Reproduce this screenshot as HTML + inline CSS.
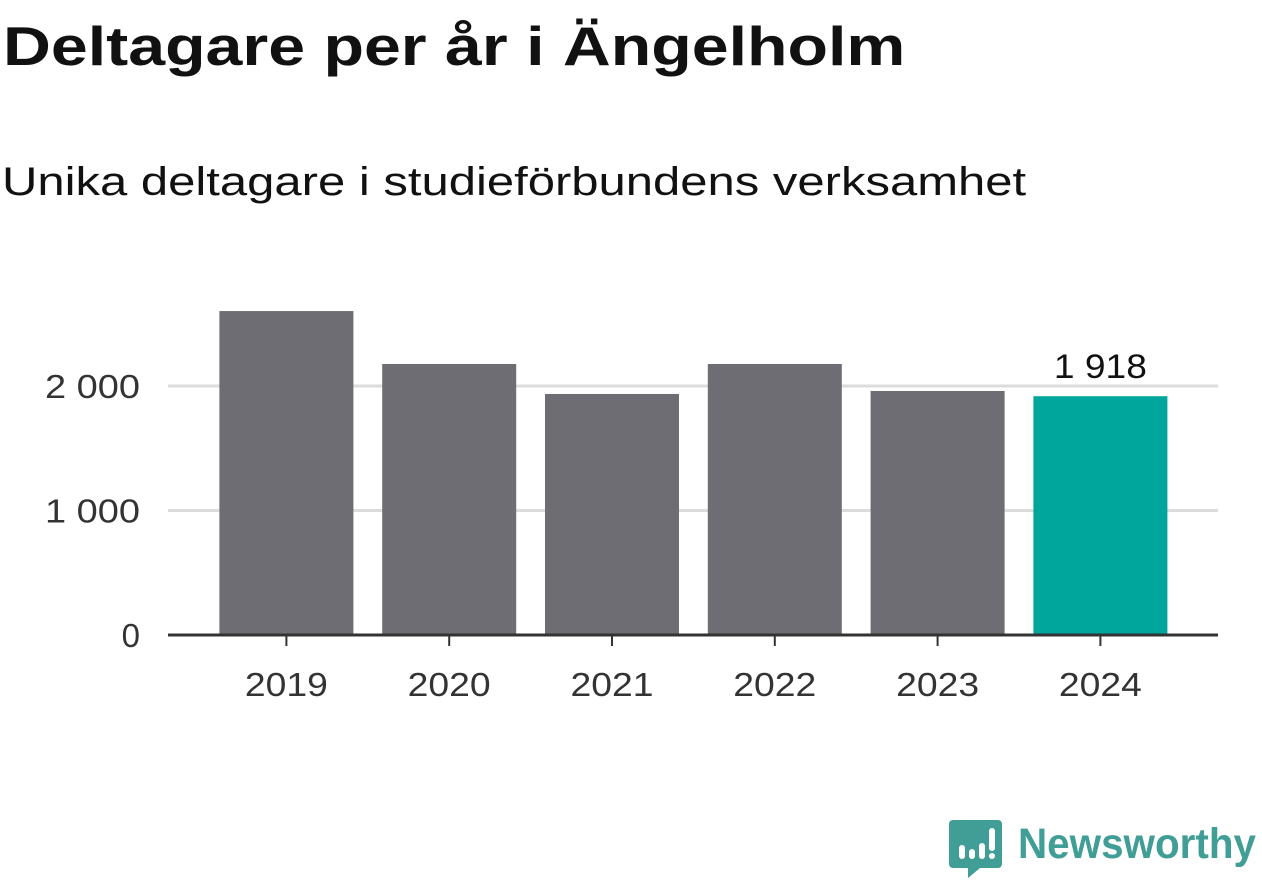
<!DOCTYPE html>
<html><head><meta charset="utf-8"><style>
body{margin:0;width:1262px;height:879px;background:#fff;overflow:hidden;font-family:"Liberation Sans",sans-serif;}
h1{position:absolute;left:3px;top:14px;margin:0;font-size:55px;font-weight:bold;color:#111;transform-origin:0 0;transform:scaleX(1.205);white-space:nowrap}
.sub{position:absolute;left:2px;top:160px;font-size:40px;color:#111;transform-origin:0 0;transform:scaleX(1.225);white-space:nowrap}
svg{position:absolute;left:0;top:0}
</style></head><body>
<h1>Deltagare per år i Ängelholm</h1>
<div class="sub">Unika deltagare i studieförbundens verksamhet</div>
<svg id="c" width="1262" height="879"></svg>
<script>
const categories=["2019","2020","2021","2022","2023","2024"];
const values=[2602,2177,1936,2177,1960,1918];
const yTicks=[0,1000,2000];
const yTickLabels=["0","1 000","2 000"];
const highlightLabel="1 918";
const NS="http://www.w3.org/2000/svg",svg=document.getElementById('c');
const X0=205,STEP=162.8,BW=134,Y0=635,PX=0.1245,L=168,R=1218;
const y=v=>Y0-v*PX, xc=i=>X0+STEP*(i+0.5);
function mk(t,a,txt){const e=document.createElementNS(NS,t);for(const k in a)e.setAttribute(k,a[k]);if(txt!=null)e.textContent=txt;svg.appendChild(e);return e;}
yTicks.forEach((t,i)=>{
 if(t>0){const g=mk('line',{x1:L,x2:R,y1:y(t),y2:y(t),stroke:'#dcdcdc','stroke-width':3});
 
 }
 const a={x:140,y:y(t)+12,'text-anchor':'end','font-size':33,fill:'#333','font-family':'Liberation Sans,sans-serif'};
 if(yTickLabels[i].length>1){a.textLength=95;a.lengthAdjust='spacingAndGlyphs';}
 const lb=mk('text',a,yTickLabels[i]);
 
 
});
values.forEach((v,i)=>{
 const last=i===values.length-1;
 const b=mk('rect',{x:xc(i)-BW/2,y:y(v),width:BW,height:Y0-y(v),fill:last?'#00a59b':'#6e6d73'});
 
 
 const tk=mk('line',{x1:xc(i),x2:xc(i),y1:Y0,y2:Y0+11,stroke:'#333','stroke-width':2});
 
 
 const lb=mk('text',{x:xc(i),y:696,'text-anchor':'middle','font-size':33,fill:'#333','font-family':'Liberation Sans,sans-serif',textLength:83,lengthAdjust:'spacingAndGlyphs'},categories[i]);
 
 
 if(last){const vl=mk('text',{x:xc(i),y:y(v)-18,'text-anchor':'middle','font-size':34,fill:'#111','font-family':'Liberation Sans,sans-serif',textLength:93,lengthAdjust:'spacingAndGlyphs'},highlightLabel);
 
 }
});
const ax=mk('line',{x1:L,x2:R,y1:Y0,y2:Y0,stroke:'#333','stroke-width':3});


</script>
<svg width="330" height="70" style="left:945px;top:815px">
<path d="M8 5 h45 a4 4 0 0 1 4 4 v40 a4 4 0 0 1 -4 4 h-18 l-12 10 v-10 h-15 a4 4 0 0 1 -4 -4 v-40 a4 4 0 0 1 4 -4z" fill="#419e96"/>
<rect x="14" y="30" width="6" height="14" rx="3" fill="#fff"/>
<rect x="24" y="34" width="6" height="10" rx="3" fill="#fff"/>
<rect x="34" y="28" width="6" height="16" rx="3" fill="#fff"/>
<rect x="44" y="13" width="6" height="23" rx="3" fill="#fff"/>
<circle cx="47" cy="41" r="3" fill="#fff"/>
<text x="73" y="43" font-size="43" font-weight="bold" fill="#419e96" font-family="Liberation Sans,sans-serif" textLength="238" lengthAdjust="spacingAndGlyphs">Newsworthy</text>
</svg>
</body></html>
